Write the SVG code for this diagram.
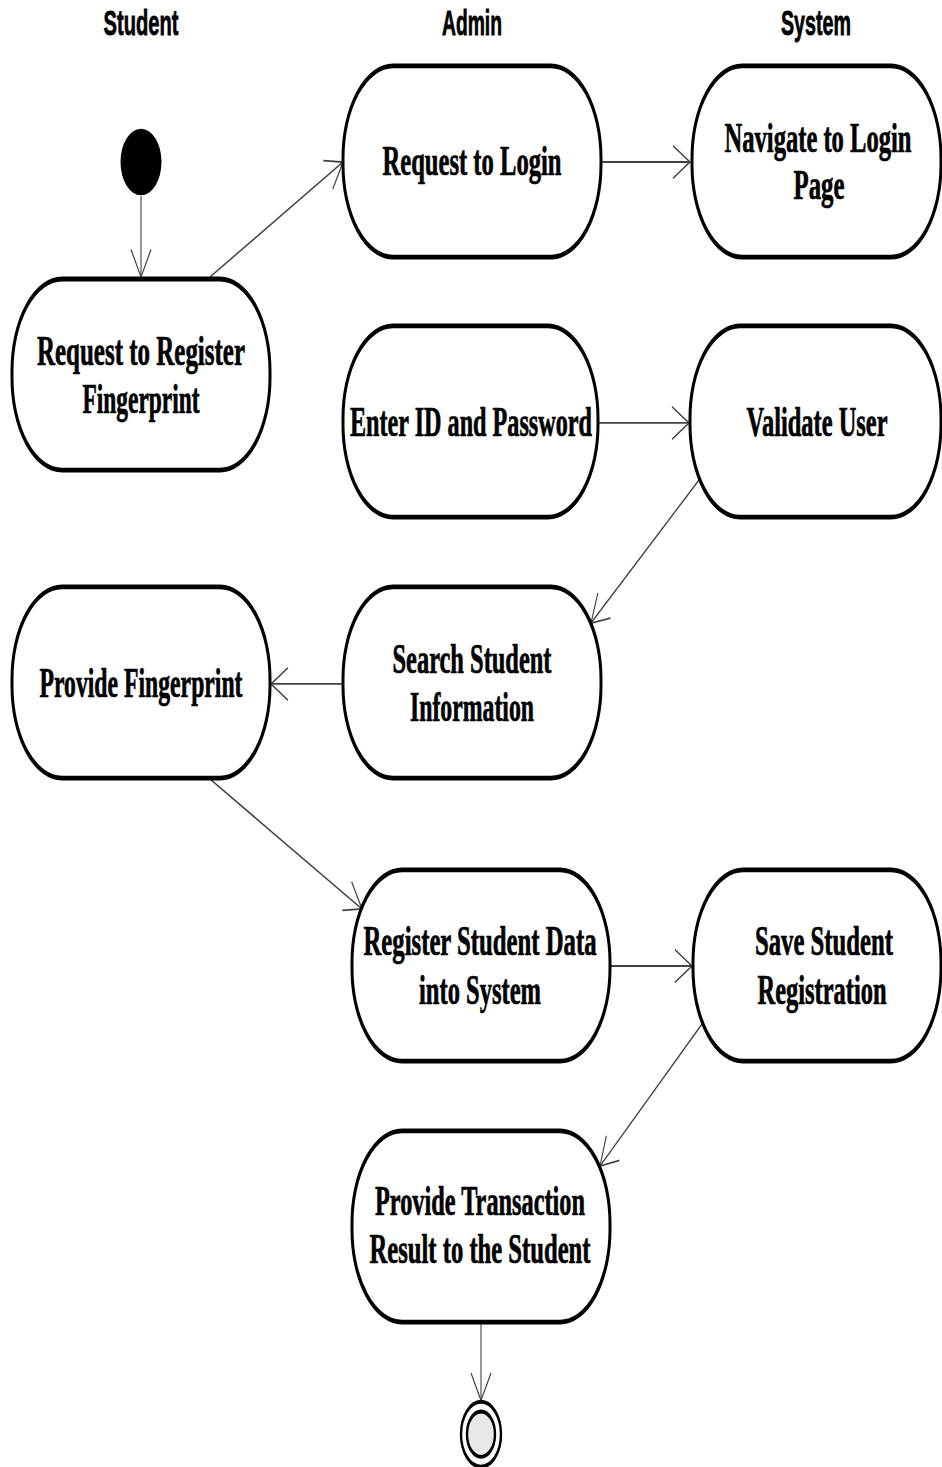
<svg xmlns="http://www.w3.org/2000/svg" width="942" height="1467" viewBox="0 0 942 1467">
  <style>
    .lane { font-family: "Liberation Sans", Arial, sans-serif; font-weight: bold; font-size: 22px; fill: #000; stroke: #000; stroke-width: 0.5; text-anchor: middle; }
    .act rect { fill: #fff; stroke: #000; stroke-width: 3; }
    .act text { font-family: "Liberation Serif", "Times New Roman", serif; font-weight: bold; font-size: 25.5px; fill: #000; stroke: #000; stroke-width: 0.45; text-anchor: middle; }
    .flow line { stroke: #444; stroke-width: 1.1; fill: none; marker-end: url(#open); }
  </style>
  <defs>
    <marker id="open" markerUnits="userSpaceOnUse" markerWidth="40" markerHeight="40" refX="0" refY="0" orient="auto" overflow="visible">
      <path d="M -17 -10 L 0 0 L -17 10" fill="none" stroke="#444" stroke-width="1.1"/>
    </marker>
  </defs>
  <rect width="942" height="1467" fill="#fff"/>
  <!-- the chart is laid out in a vertically stretched frame -->
  <g transform="scale(1,1.62)">
    <g id="lanes">
      <text class="lane" x="141" y="21.6" textLength="75" lengthAdjust="spacingAndGlyphs">Student</text>
      <text class="lane" x="472" y="21.6" textLength="60" lengthAdjust="spacingAndGlyphs">Admin</text>
      <text class="lane" x="816" y="21.6" textLength="70" lengthAdjust="spacingAndGlyphs">System</text>
    </g>

    <g id="flows" class="flow">
      <line x1="141" y1="121" x2="141" y2="171"/>
      <line x1="210" y1="171" x2="343" y2="100"/>
      <line x1="601" y1="100" x2="690" y2="100"/>
      <line x1="598" y1="261.1" x2="689" y2="261.1"/>
      <line x1="699" y1="296.3" x2="591" y2="384.6"/>
      <line x1="343" y1="422.2" x2="271" y2="422.2"/>
      <line x1="210" y1="480.9" x2="362" y2="561.1"/>
      <line x1="610" y1="596.3" x2="692" y2="596.3"/>
      <line x1="702" y1="632.1" x2="600" y2="719.8"/>
      <line x1="481" y1="816" x2="481" y2="864.5"/>
    </g>

    <g id="start">
      <circle cx="141" cy="100" r="20.5" fill="#000"/>
    </g>

    <g id="end">
      <circle cx="481" cy="885.3" r="20" fill="#fff" stroke="#000" stroke-width="2.4"/>
      <circle cx="481" cy="885.3" r="14" fill="#e8e8e8" stroke="#000" stroke-width="2.4"/>
    </g>

    <g id="request-register" class="act">
      <rect x="12" y="172.2" width="258" height="118" rx="50" ry="57"/>
      <text x="141" y="225.3" textLength="208" lengthAdjust="spacingAndGlyphs">Request to Register</text>
      <text x="141" y="254.9" textLength="117" lengthAdjust="spacingAndGlyphs">Fingerprint</text>
    </g>

    <g id="request-login" class="act">
      <rect x="343" y="40.7" width="258" height="118" rx="50" ry="57"/>
      <text x="472" y="108.3" textLength="179" lengthAdjust="spacingAndGlyphs">Request to Login</text>
    </g>

    <g id="navigate-login" class="act">
      <rect x="692" y="40.7" width="249" height="118" rx="50" ry="57"/>
      <text x="818" y="93.8" textLength="187" lengthAdjust="spacingAndGlyphs">Navigate to Login</text>
      <text x="819" y="122.8" textLength="51" lengthAdjust="spacingAndGlyphs">Page</text>
    </g>

    <g id="enter-credentials" class="act">
      <rect x="343" y="201.2" width="255" height="118" rx="50" ry="57"/>
      <text x="471" y="269.1" textLength="242" lengthAdjust="spacingAndGlyphs">Enter ID and Password</text>
    </g>

    <g id="validate-user" class="act">
      <rect x="690" y="201.2" width="251" height="118" rx="50" ry="57"/>
      <text x="817" y="269.1" textLength="141" lengthAdjust="spacingAndGlyphs">Validate User</text>
    </g>

    <g id="search-student" class="act">
      <rect x="343" y="362.3" width="258" height="118" rx="50" ry="57"/>
      <text x="472" y="415.4" textLength="159" lengthAdjust="spacingAndGlyphs">Search Student</text>
      <text x="472" y="445" textLength="124" lengthAdjust="spacingAndGlyphs">Information</text>
    </g>

    <g id="provide-fingerprint" class="act">
      <rect x="12" y="362.3" width="258" height="118" rx="50" ry="57"/>
      <text x="141" y="430.2" textLength="203" lengthAdjust="spacingAndGlyphs">Provide Fingerprint</text>
    </g>

    <g id="register-data" class="act">
      <rect x="352" y="537" width="258" height="118" rx="50" ry="57"/>
      <text x="480" y="589.5" textLength="233" lengthAdjust="spacingAndGlyphs">Register Student Data</text>
      <text x="480" y="619.8" textLength="122" lengthAdjust="spacingAndGlyphs">into System</text>
    </g>

    <g id="save-registration" class="act">
      <rect x="693" y="537" width="248" height="118" rx="50" ry="57"/>
      <text x="824" y="589.5" textLength="138" lengthAdjust="spacingAndGlyphs">Save Student</text>
      <text x="822" y="619.8" textLength="129" lengthAdjust="spacingAndGlyphs">Registration</text>
    </g>

    <g id="transaction-result" class="act">
      <rect x="352" y="698.1" width="258" height="118" rx="50" ry="57"/>
      <text x="480" y="750" textLength="210" lengthAdjust="spacingAndGlyphs">Provide Transaction</text>
      <text x="480" y="779.6" textLength="221" lengthAdjust="spacingAndGlyphs">Result to the Student</text>
    </g>
  </g>
</svg>
